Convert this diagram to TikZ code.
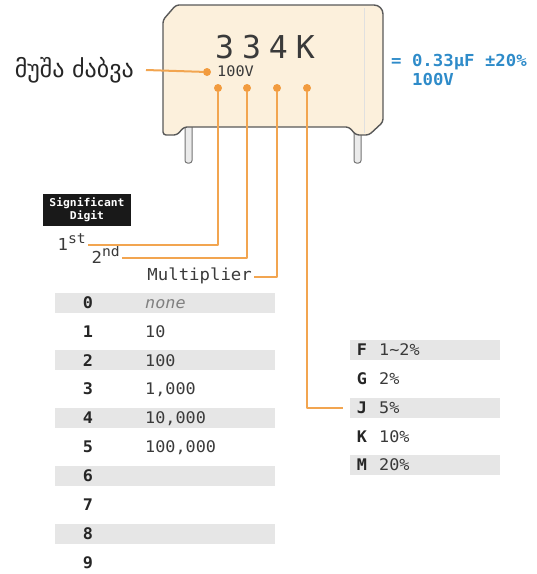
\documentclass[tikz,border=0pt]{standalone}
\usepackage{fontspec}
\newfontfamily\monofont[FakeStretch=1.05]{DejaVu Sans Mono}
\newfontfamily\markfont{DejaVu Sans Mono}
\newfontfamily\geofont{DejaVu Sans}
\definecolor{wire}{HTML}{F2A550}
\definecolor{dotc}{HTML}{F29B3E}
\definecolor{bodyc}{HTML}{FCF0DC}
\definecolor{band}{HTML}{E6E6E6}
\definecolor{ink}{HTML}{3A3A3A}
\definecolor{note}{HTML}{2E8BC9}
\begin{document}
\begin{tikzpicture}[x=1pt,y=-1pt,
  wirel/.style={draw=wire,line width=2pt,line join=round},
  pin/.style={circle,fill=dotc,inner sep=0pt,minimum size=8pt},
  bandrow/.style={fill=band,inner sep=0pt,minimum height=20pt},
  celltxt/.style={inner sep=0pt,text height=11.5pt,text depth=0pt,text=ink,
    font=\monofont\fontsize{16}{18}\selectfont},
  cellkey/.style={celltxt,text=black!85,font=\monofont\bfseries\fontsize{16}{18}\selectfont},
  leadwire/.style={fill=black!8,draw=black!55,line width=1pt,rounded corners=2.5pt},
  labeltxt/.style={inner sep=0pt,text=ink,font=\monofont\fontsize{16.5}{18}\selectfont},
  notetxt/.style={inner sep=0pt,anchor=west,text=note,text height=12pt,text depth=0pt,
    font=\monofont\bfseries\fontsize{16.5}{18}\selectfont}]
\useasboundingbox (0,0) rectangle (537,574);

% capacitor leads
\draw[leadwire] (185,120) rectangle (192,163);
\draw[leadwire] (354,128) rectangle (361,163);

% capacitor body
\draw[line width=1.4pt,draw=black!65,fill=bodyc]
  (163,135) [rounded corners=3pt] -- (163,20) -- (176,5) [rounded corners=9pt] -- (383,5)
  [rounded corners=3pt] -- (383,122) -- (369,135) -- (356,135) -- (349,127)
  -- (184,127) -- (177,135) -- cycle;
\draw[black!12,line width=0.8pt] (364,8) -- (364,133);

% printed marking
\node[inner sep=0pt,text height=23pt,text depth=0pt,text=ink,
  font=\markfont\fontsize{31.5}{34}\selectfont] (code) at (265,47)
  {3\hspace{8pt}3\hspace{8pt}4\hspace{8pt}K};
\node[inner sep=0pt,anchor=west,text height=10.5pt,text depth=0pt,text=ink,
  font=\monofont\fontsize{14.5}{16}\selectfont] (volt) at (217,71) {100V};

% marker dots
\node[pin] (d0) at (207,72) {};
\node[pin] (d1) at (218,88) {};
\node[pin] (d2) at (247,88) {};
\node[pin] (d3) at (277,88) {};
\node[pin] (d4) at (307,88) {};

% working voltage label
\node[anchor=east,inner sep=0pt,text=black!85,font=\geofont\fontsize{24}{26}\selectfont]
  (geo) at (134,70) {მუშა ძაბვა};
\draw[wirel] ([xshift=12pt]geo.east) -- (d0);

% decoded value
\node[notetxt] (val1) at (391,60) {= 0.33μF ±20\%};
\node[notetxt] (val2) at (412,79) {100V};

% significant digit header
\node[fill=black!90,minimum width=88pt,minimum height=32pt,inner sep=0pt,align=center,
  text=white,font=\monofont\bfseries\fontsize{10.8}{13}\selectfont] (sig) at (87,210)
  {Significant\\Digit};

% digit position labels
\node[labeltxt,anchor=east,text height=11.5pt,text depth=0pt] (ord1) at (86,245)
  {1\smash{\raisebox{7pt}{\fontsize{14}{15}\selectfont st}}};
\node[labeltxt,anchor=east,text height=11.5pt,text depth=0pt] (ord2) at (120,258)
  {2\smash{\raisebox{7pt}{\fontsize{14}{15}\selectfont nd}}};
\node[labeltxt,anchor=base east] (multl) at (252,280) {Multiplier};

\draw[wirel] ([xshift=2pt]ord1.east) -| (d1);
\draw[wirel] ([xshift=2pt]ord2.east) -| (d2);
\draw[wirel] ([xshift=2pt,yshift=3pt]multl.base east) -| (d3);

% multiplier table
\foreach \i/\v in {0/{\color{black!50}\itshape none},1/10,2/100,3/{1,000},4/{10,000},
                   5/{100,000},6/{},7/{},8/{},9/{}}{
  \pgfmathsetmacro\yy{302.5+28.9*\i}
  \ifodd\i\else\node[bandrow,minimum width=220pt] (mb\i) at (165,\yy) {};\fi
  \node[cellkey] (mk\i) at (88,\yy) {\i};
  \node[celltxt,anchor=west] (mv\i) at (145,\yy) {\v};
}

% tolerance table
\foreach \k/\v [count=\n from 0] in {F/{1\textasciitilde2\%},G/{2\%},J/{5\%},K/{10\%},M/{20\%}}{
  \pgfmathsetmacro\yy{350+28.75*\n}
  \ifodd\n\else\node[bandrow,minimum width=150pt] (tb\k) at (425,\yy) {};\fi
  \node[cellkey] (tk\k) at (362,\yy) {\k};
  \node[celltxt,anchor=west] (tv\k) at (379,\yy) {\v};
}

\draw[wirel] (d4) |- ([xshift=-7pt]tbJ.west);
\end{tikzpicture}
\end{document}
